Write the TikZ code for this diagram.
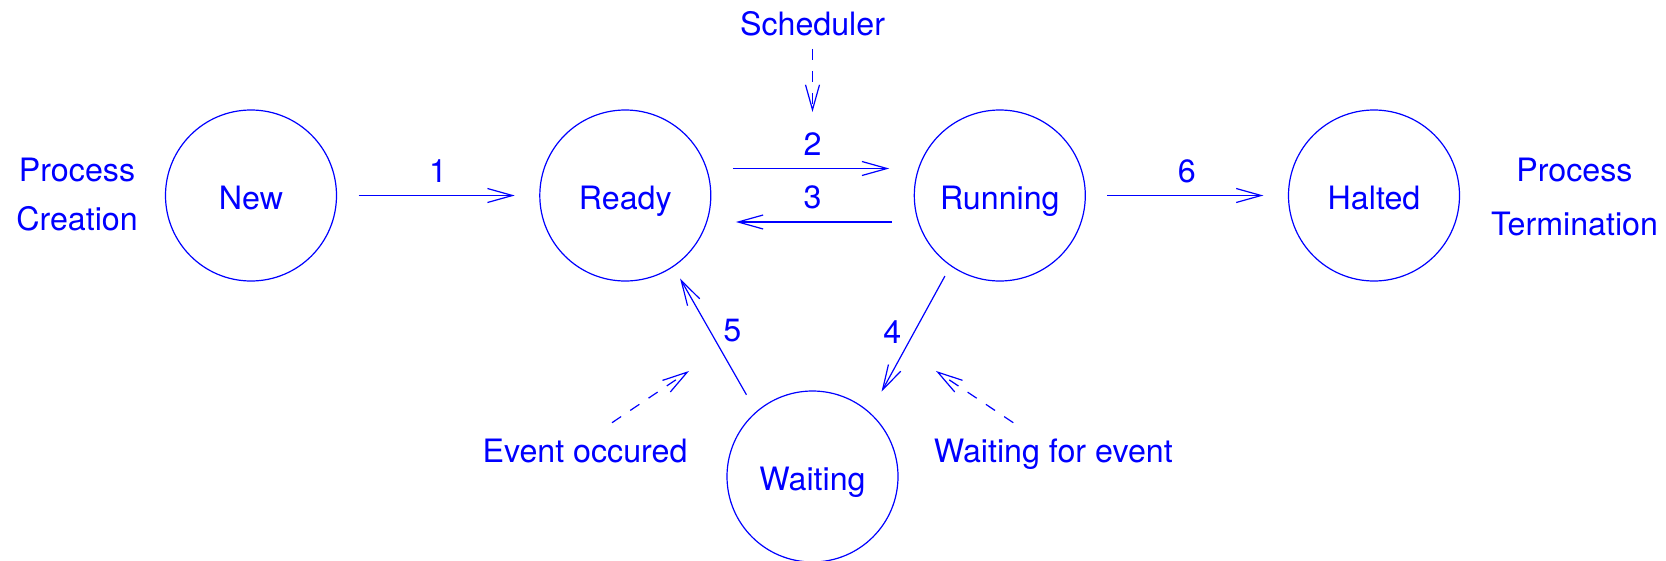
\documentclass[tikz,border=0pt]{standalone}
\usepackage{fontspec}
\setmainfont{TeX Gyre Heros}
\usetikzlibrary{arrows.meta}
\begin{document}
\begin{tikzpicture}[x=1pt,y=-1pt,
  every node/.style={text=blue, font=\fontsize{32.2}{38}\selectfont, inner sep=0pt},
  state/.style={circle, draw=blue, line width=1.2pt, minimum size=171pt,
                text height=27pt, text depth=0pt},
  arr/.style={draw=blue, line width=1.2pt,
              -{Straight Barb[length=25pt,width=14pt]}},
  evarr/.style={arr, dash pattern=on 11pt off 11pt},
  hgap/.style={shorten <=21.5pt, shorten >=24.5pt},
  num/.style={midway, anchor=base, yshift=13.5pt}]

\useasboundingbox (0,0) rectangle (1666,560);

% process states
\node[state] (new)     at (251,195.5)   {New};
\node[state] (ready)   at (625.3,195.5) {Ready};
\node[state] (running) at (999.8,195.5) {Running};
\node[state] (halted)  at (1374,195.5)  {Halted};
\node[state] (waiting) at (812.5,476.5) {Waiting};

% transitions
\draw[arr, hgap] (new.east) -- (ready.west) node[num] {1};
\draw[arr, hgap] ([yshift=27pt]ready.east) -- ([yshift=27pt]running.west) node[num] {2};
\draw[arr, hgap] ([yshift=-26.5pt]running.west) -- ([yshift=-26.5pt]ready.east) node[num] {3};
\draw[arr, hgap] (running.east) -- (halted.west) node[num] {6};
\draw[arr, shorten <=11.4pt, shorten >=23.7pt] (running.235.6) -- (waiting.48.3)
  node[midway, anchor=base, xshift=-18pt, yshift=-3.9pt] {4};
\draw[arr, shorten <=19.3pt, shorten >=13.5pt] (waiting.131.9) -- (ready.304.2)
  node[midway, anchor=base, xshift=17.6pt, yshift=-2.2pt] {5};

% outside events
\node[anchor=base] (sched) at (812.5,35) {Scheduler};
\coordinate (schedto) at (812.5,112);
\draw[evarr, shorten <=13pt] (sched.south) -- (schedto);

\node[anchor=base] (evocc) at (585,462.3) {Event occured};
\coordinate (evoccA) at (612,422.7);
\coordinate (evoccB) at (689,371);
\draw[evarr] (evoccA) -- (evoccB);

\node[anchor=base] (evwait) at (1053.3,462.3) {Waiting for event};
\coordinate (evwaitA) at (1013.3,422.7);
\coordinate (evwaitB) at (936,371);
\draw[evarr] (evwaitA) -- (evwaitB);

% start and end of a process
\node[anchor=base] (pcreate) at (77,181.7)
  {\fontsize{32.2}{49}\selectfont\begin{tabular}[t]{@{}c@{}}Process\\Creation\end{tabular}};
\node[anchor=base] (pterm) at (1574.5,181.7)
  {\fontsize{32.2}{53.3}\selectfont\begin{tabular}[t]{@{}c@{}}Process\\Termination\end{tabular}};
\end{tikzpicture}
\end{document}
